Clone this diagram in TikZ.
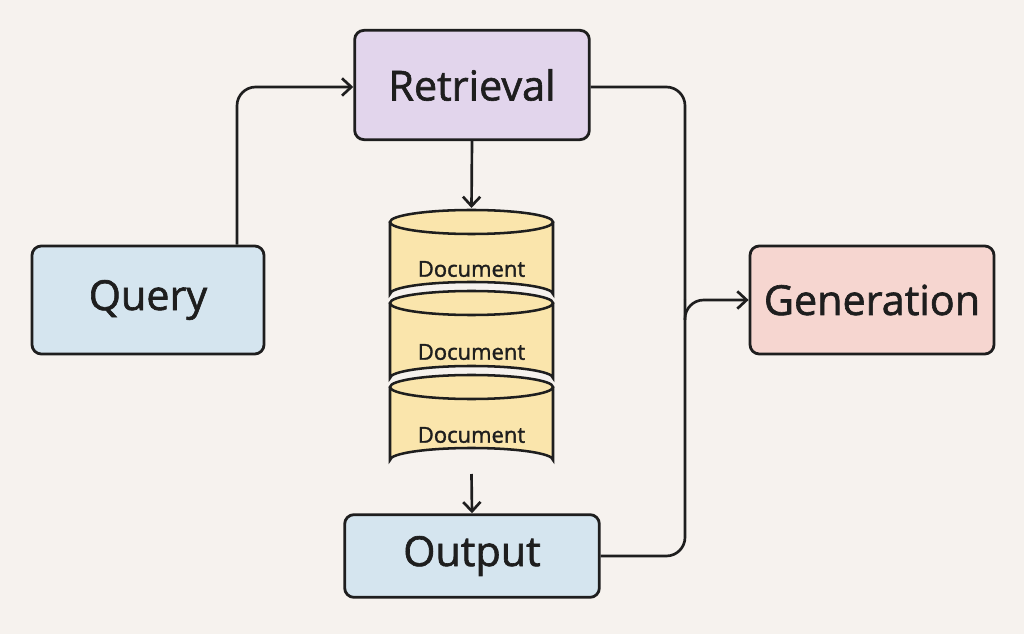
\documentclass[tikz,border=0pt]{standalone}
\usepackage{fontspec}
\setmainfont{Open Sans}[BoldFont=Open Sans, BoldFeatures={FakeBold=1.5}]
\usetikzlibrary{arrows.meta}
\definecolor{bg}{HTML}{F6F2EE}
\definecolor{qblue}{HTML}{D5E5EF}
\definecolor{rpurple}{HTML}{E2D5EC}
\definecolor{gpink}{HTML}{F6D6D0}
\definecolor{dyellow}{HTML}{FAE5AC}
\definecolor{ink}{HTML}{1E1E1E}
\tikzset{
  box/.style={draw=ink, line width=2.1pt, rounded corners=7pt, font=\fontsize{31}{33}\selectfont, text=ink},
  conn/.style={draw=ink, line width=2pt, rounded corners=14pt},
  arr/.style={-{Straight Barb[length=7pt,width=13pt]}},
  doclbl/.style={font=\fontsize{16.5}{18}\selectfont, text=ink},
  cyl/.style={draw=ink, line width=1.9pt, fill=dyellow}
}
\begin{document}
\begin{tikzpicture}[x=0.75pt,y=-0.75pt]
\fill[bg] (0,0) rectangle (1024,634);
\useasboundingbox (0,0) rectangle (1024,634);
\node[box, fill=qblue, minimum width=174pt, minimum height=81pt] (query) at (148,300) {\bfseries Query};
\node[box, fill=rpurple, minimum width=176pt, minimum height=82pt] (retr) at (472,85) {\bfseries Retrieval};
\node[box, fill=gpink, minimum width=183pt, minimum height=81pt] (gen) at (872,300) {\bfseries Generation};
\node[box, fill=qblue, minimum width=191pt, minimum height=62pt] (out) at (472,556) {\bfseries Output};
% cylinders
\foreach \t/\b in {387/460, 303/378, 222/294}{
  \draw[cyl] (390,\t) -- (390,\b) arc[start angle=180,end angle=360,x radius=81.5,y radius=12] -- (553,\t);
  \draw[cyl] (471.5,\t) ellipse[x radius=81.5,y radius=12];
}
\node[doclbl] (d1) at (471.5,269) {\bfseries Document};
\node[doclbl] (d2) at (471.5,352) {\bfseries Document};
\node[doclbl] (d3) at (471.5,435) {\bfseries Document};
\coordinate (dtop) at (471.5,208);
\coordinate (dbot) at (471.5,474);
\coordinate (join) at (685,300);
% connectors
\draw[conn,arr] (query.north -| 237,0) -- (237,87) -- (retr.west |- 0,87);
\draw[conn] (retr.east |- 0,87) -- (685,87) -- (join);
\draw[conn] (out.east) -- (685,556) -- (join);
\draw[conn,arr] (685,320) -- (685,300) -- (gen.west);
\draw[conn,arr] (retr.south) -- (dtop);
\draw[conn,arr] (dbot) -- (out.north);
\end{tikzpicture}
\end{document}
